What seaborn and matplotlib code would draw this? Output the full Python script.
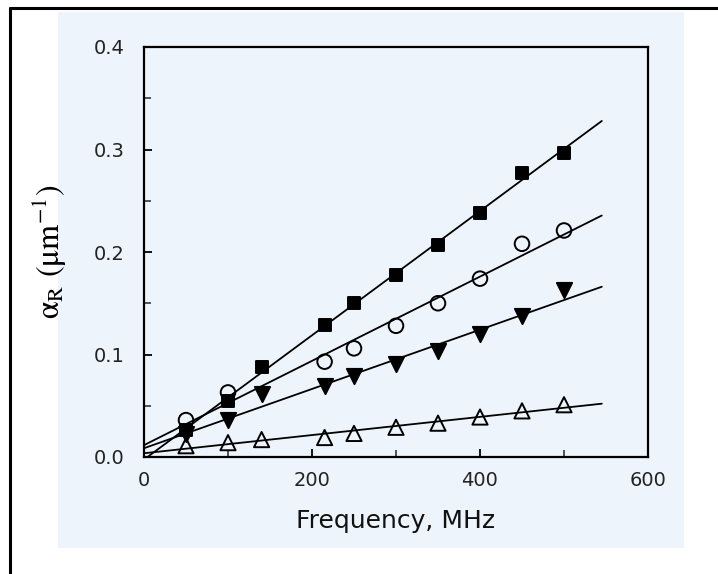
import numpy as np
import pandas as pd
import matplotlib
matplotlib.use("Agg")
import matplotlib.pyplot as plt
import seaborn as sns
from matplotlib.ticker import MultipleLocator, FixedLocator
from matplotlib.lines import Line2D
from matplotlib.patches import Rectangle

# ---- data ----
freq_sq = [50, 100, 140, 215, 250, 300, 350, 400, 450, 500]
alpha_sq = [0.026, 0.055, 0.088, 0.129, 0.150, 0.178, 0.207, 0.238, 0.277, 0.297]

freq_circ = [50, 100, 215, 250, 300, 350, 400, 450, 500]
alpha_circ = [0.036, 0.063, 0.093, 0.106, 0.128, 0.150, 0.174, 0.208, 0.221]

freq_tdn = [50, 100, 140, 215, 250, 300, 350, 400, 450, 500]
alpha_tdn = [0.022, 0.036, 0.061, 0.069, 0.079, 0.091, 0.103, 0.120, 0.138, 0.163]

freq_tup = [50, 100, 140, 215, 250, 300, 350, 400, 450, 500]
alpha_tup = [0.011, 0.014, 0.017, 0.019, 0.023, 0.029, 0.033, 0.039, 0.045, 0.051]

fit_range = [0, 545]

x_ticks = [0, 200, 400, 600]
y_ticks = [0.0, 0.1, 0.2, 0.3, 0.4]

bg = "#eef4fb"

sns.set_theme(style="ticks")
plt.rcParams["font.family"] = ["DejaVu Sans"]
plt.rcParams["mathtext.fontset"] = "stix"
plt.rcParams["axes.labelcolor"] = "black"
plt.rcParams["text.color"] = "black"

fig = plt.figure(figsize=(7.18, 5.74), dpi=100)
fig.patch.set_facecolor("white")

# scanned-page background patch
fig.add_artist(Rectangle((58 / 718, 1 - 548 / 574), 626 / 718, 536 / 574,
                         transform=fig.transFigure, facecolor=bg,
                         edgecolor="none", zorder=0))
# outer border (top and left)
fig.add_artist(Line2D([10 / 718, 1.0], [1 - 8 / 574, 1 - 8 / 574],
                      transform=fig.transFigure, color="black", lw=2.2))
fig.add_artist(Line2D([10 / 718, 10 / 718], [0.0, 1 - 8 / 574],
                      transform=fig.transFigure, color="black", lw=2.2))

ax = fig.add_axes([144 / 718, 1 - 457 / 574, (648 - 144) / 718, (457 - 47) / 574])
ax.set_facecolor(bg)

series = [
    (freq_sq, alpha_sq, "s", "black", 85),
    (freq_circ, alpha_circ, "o", "none", 110),
    (freq_tdn, alpha_tdn, "v", "black", 120),
    (freq_tup, alpha_tup, "^", "none", 120),
]

for fx, fy, mk, fc, sz in series:
    coef = np.polyfit(fx, fy, 1)
    xs = np.array(fit_range, dtype=float)
    line_df = pd.DataFrame({"x": xs, "y": np.polyval(coef, xs)})
    sns.lineplot(data=line_df, x="x", y="y", ax=ax, color="black", lw=1.3, zorder=2)

for fx, fy, mk, fc, sz in series:
    df = pd.DataFrame({"x": fx, "y": fy})
    sns.scatterplot(data=df, x="x", y="y", ax=ax, marker=mk, s=sz,
                    facecolor=fc, edgecolor="black", linewidth=1.4, zorder=3)

ax.set_xlim(0, 600)
ax.set_ylim(0, 0.4)
ax.xaxis.set_major_locator(FixedLocator(x_ticks))
ax.xaxis.set_minor_locator(MultipleLocator(100))
ax.yaxis.set_major_locator(FixedLocator(y_ticks))
ax.yaxis.set_minor_locator(MultipleLocator(0.05))
ax.set_xticklabels([str(v) for v in x_ticks])
ax.set_yticklabels([f"{v:.1f}" for v in y_ticks])

ax.tick_params(axis="both", which="major", direction="in", length=6, width=1.3,
               labelsize=14, colors="black", labelcolor="#222222",
               top=False, right=False)
ax.tick_params(axis="both", which="minor", direction="in", length=5, width=1.1,
               top=False, right=False)
ax.tick_params(axis="x", which="major", pad=10)
ax.tick_params(axis="y", which="major", pad=14)

for sp in ax.spines.values():
    sp.set_linewidth(1.6)
    sp.set_color("black")
    sp.set_visible(True)

ax.set_xlabel("Frequency, MHz", fontsize=18, labelpad=14, color="#111111")
ax.set_ylabel(r"$\mathrm{\alpha_R\ (\mu m^{-1})}$", fontsize=23, labelpad=18,
              color="black")

fig.savefig("out.png", dpi=100, facecolor="white")
